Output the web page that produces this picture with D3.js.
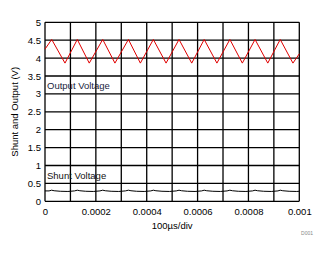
<!DOCTYPE html>
<html><head><meta charset="utf-8">
<script src="https://cdn.jsdelivr.net/npm/d3@7"></script>
<style>body{margin:0;background:#fff}svg{display:block;font-family:"Liberation Sans",Arial,sans-serif}</style>
</head><body><svg id="c" width="328" height="254"></svg>
<script>
const xTicks = [0, 0.0002, 0.0004, 0.0006, 0.0008, 0.001];
const xTickLabels = ["0", "0.0002", "0.0004", "0.0006", "0.0008", "0.001"];
const yTicks = [0, 0.5, 1, 1.5, 2, 2.5, 3, 3.5, 4, 4.5, 5];
const yTickLabels = ["0", "0.5", "1", "1.5", "2", "2.5", "3", "3.5", "4", "4.5", "5"];
const outputTime = [0, 0.0000263, 0.0000786, 0.000127, 0.000174, 0.000227, 0.000275, 0.000328, 0.000375, 0.000426, 0.000476, 0.000527, 0.000577, 0.000626, 0.000676, 0.000727, 0.000776, 0.000826, 0.000876, 0.000925, 0.000975, 0.001];
const outputVoltage = [4.25, 4.52, 3.86, 4.52, 3.86, 4.52, 3.86, 4.52, 3.86, 4.52, 3.86, 4.52, 3.86, 4.52, 3.86, 4.52, 3.86, 4.52, 3.86, 4.52, 3.86, 4.12];
const shuntTime = [0, 0.000016, 0.000026, 0.000036, 0.00006, 0.00009, 0.000116, 0.000127, 0.000137, 0.00016, 0.00019, 0.000216, 0.000227, 0.000237, 0.00026, 0.00029, 0.000316, 0.000328, 0.000338, 0.00036, 0.00039, 0.000416, 0.000426, 0.000436, 0.00046, 0.00049, 0.000516, 0.000527, 0.000537, 0.00056, 0.00059, 0.000616, 0.000626, 0.000636, 0.00066, 0.00069, 0.000716, 0.000727, 0.000737, 0.00076, 0.00079, 0.000816, 0.000826, 0.000836, 0.00086, 0.00089, 0.000916, 0.000925, 0.000935, 0.00096, 0.00099, 0.001];
const shuntVoltage = [0.29, 0.29, 0.31, 0.295, 0.28, 0.275, 0.29, 0.31, 0.295, 0.28, 0.275, 0.29, 0.31, 0.295, 0.28, 0.275, 0.29, 0.31, 0.295, 0.28, 0.275, 0.29, 0.31, 0.295, 0.28, 0.275, 0.29, 0.31, 0.295, 0.28, 0.275, 0.29, 0.31, 0.295, 0.28, 0.275, 0.29, 0.31, 0.295, 0.28, 0.275, 0.29, 0.31, 0.295, 0.28, 0.275, 0.29, 0.31, 0.295, 0.28, 0.275, 0.28];
const gridX = d3.range(0, 11).map(i => i * 0.0001);

const L = 45, R = 299.3, T = 22.3, B = 201.3;
const svg = d3.select("#c");
const x = d3.scaleLinear().domain([0, 0.001]).range([L, R]);
const y = d3.scaleLinear().domain([0, 5]).range([B, T]);

const g = svg.append("g");
g.selectAll("line.gx").data(gridX).join("line")
  .attr("x1", d => x(d)).attr("x2", d => x(d)).attr("y1", T).attr("y2", B)
  .attr("stroke", "#000").attr("stroke-width", 1.3);
g.selectAll("line.gy").data(yTicks).join("line")
  .attr("y1", d => y(d)).attr("y2", d => y(d)).attr("x1", L).attr("x2", R)
  .attr("stroke", "#000").attr("stroke-width", 1.3);

const yAxis = d3.axisLeft(y).tickValues(yTicks).tickFormat((d, i) => yTickLabels[i]).tickSize(0).tickPadding(4);
const ya = svg.append("g").attr("transform", `translate(${L},0)`).call(yAxis);
ya.select(".domain").remove();
ya.selectAll("text").attr("font-size", 9.5).attr("fill", "#000").attr("font-family", "Liberation Sans, Arial, sans-serif");

const xAxis = d3.axisBottom(x).tickValues(xTicks).tickFormat((d, i) => xTickLabels[i]).tickSize(0).tickPadding(7);
const xa = svg.append("g").attr("transform", `translate(0,${B})`).call(xAxis);
xa.select(".domain").remove();
xa.selectAll("text").attr("font-size", 9.5).attr("fill", "#000").attr("font-family", "Liberation Sans, Arial, sans-serif");

const line = d3.line().x(d => x(d[0])).y(d => y(d[1]));
svg.append("path").datum(outputTime.map((t, i) => [t, outputVoltage[i]]))
  .attr("d", line).attr("fill", "none").attr("stroke", "#e00000").attr("stroke-width", 1);
svg.append("path").datum(shuntTime.map((t, i) => [t, shuntVoltage[i]]))
  .attr("d", line).attr("fill", "none").attr("stroke", "#000").attr("stroke-width", 1);

svg.append("text").attr("x", 47).attr("y", 89).attr("font-size", 9.5).attr("fill", "#1a2440").text("Output Voltage");
svg.append("text").attr("x", 47).attr("y", 178.5).attr("font-size", 9.5).attr("fill", "#111").text("Shunt Voltage");

svg.append("text").attr("x", (L + R) / 2).attr("y", 229).attr("text-anchor", "middle").attr("font-size", 9.5).text("100µs/div");
svg.append("text").attr("transform", `translate(18,${(T + B) / 2}) rotate(-90)`).attr("text-anchor", "middle").attr("font-size", 9.5).text("Shunt and Output (V)");
svg.append("text").attr("x", 313).attr("y", 234.5).attr("text-anchor", "end").attr("font-size", 5).attr("fill", "#888").text("D001");
</script></body></html>
